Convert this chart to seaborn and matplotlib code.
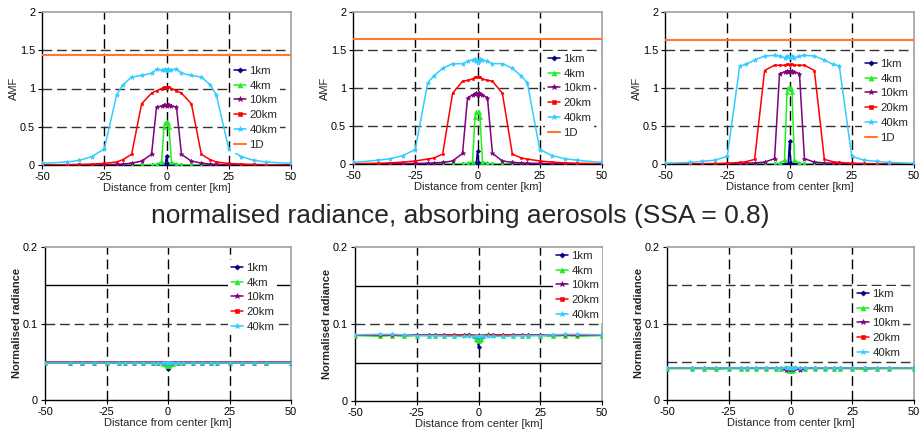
import matplotlib
matplotlib.use("Agg")
import matplotlib.pyplot as plt
from matplotlib.ticker import FuncFormatter
import seaborn as sns

sns.set_style("ticks")
plt.rcParams["font.family"] = ["Liberation Sans", "DejaVu Sans"]

# Sample positions across the plume [km]
X_KM = [-50, -40, -35, -30, -25, -20, -17.5, -14, -10, -6, -4, -2, -1, -0.5, 0,
        0.5, 1, 2, 4, 6, 10, 14, 17.5, 20, 25, 30, 35, 40, 50]

SERIES = ["1km", "4km", "10km", "20km", "40km"]
COLORS = {"1km": "#000080", "4km": "#22EE22", "10km": "#800080",
          "20km": "#FF0000", "40km": "#33CCFF"}
MARKERS = {"1km": "D", "4km": "^", "10km": "*", "20km": "s", "40km": "*"}
MSIZE = {"1km": 2.2, "4km": 3.0, "10km": 3.4, "20km": 2.0, "40km": 3.4}
ONE_D_COLOR = "#FF7733"

# ---- AMF, left panel
amf1_1km = [0, 0, 0, 0, 0, 0, 0, 0, 0, 0, 0, 0.002, 0.004, 0.01, 0.12, 0.01, 0.004, 0.002,
            0, 0, 0, 0, 0, 0, 0, 0, 0, 0, 0]
amf1_4km = [0, 0, 0, 0, 0, 0, 0, 0, 0.002, 0.005, 0.01, 0.04, 0.50, 0.55, 0.56, 0.55, 0.50,
            0.04, 0.01, 0.005, 0.002, 0, 0, 0, 0, 0, 0, 0, 0]
amf1_10km = [0, 0, 0, 0.002, 0.004, 0.008, 0.012, 0.025, 0.05, 0.14, 0.76, 0.77, 0.78, 0.78,
             0.77, 0.78, 0.78, 0.77, 0.76, 0.14, 0.05, 0.025, 0.012, 0.008, 0.004, 0.002, 0, 0, 0]
amf1_20km = [0, 0.005, 0.008, 0.012, 0.02, 0.04, 0.07, 0.14, 0.80, 0.94, 0.97, 1.00, 1.02, 1.02,
             1.01, 1.02, 1.02, 1.00, 0.97, 0.94, 0.80, 0.14, 0.07, 0.04, 0.02, 0.012, 0.008,
             0.005, 0]
amf1_40km = [0.02, 0.04, 0.06, 0.11, 0.21, 0.92, 1.05, 1.15, 1.17, 1.20, 1.25, 1.24, 1.24, 1.25,
             1.23, 1.25, 1.24, 1.24, 1.26, 1.20, 1.17, 1.15, 1.05, 0.92, 0.21, 0.11, 0.06, 0.04,
             0.02]

# ---- AMF, middle panel
amf2_1km = [0, 0, 0, 0, 0, 0, 0, 0, 0, 0, 0, 0, 0, 0.01, 0.17, 0.01, 0, 0, 0, 0, 0, 0, 0, 0,
            0, 0, 0, 0, 0]
amf2_4km = [0, 0, 0, 0, 0, 0, 0, 0, 0.002, 0.005, 0.01, 0.03, 0.62, 0.68, 0.68, 0.68, 0.62,
            0.03, 0.01, 0.005, 0.002, 0, 0, 0, 0, 0, 0, 0, 0]
amf2_10km = [0, 0.002, 0.004, 0.006, 0.008, 0.01, 0.015, 0.02, 0.04, 0.14, 0.87, 0.91, 0.92,
             0.93, 0.91, 0.93, 0.92, 0.91, 0.87, 0.14, 0.04, 0.02, 0.015, 0.01, 0.008, 0.006,
             0.004, 0.002, 0]
amf2_20km = [0.005, 0.01, 0.015, 0.025, 0.04, 0.065, 0.08, 0.13, 0.93, 1.09, 1.10, 1.12, 1.14,
             1.15, 1.14, 1.15, 1.14, 1.12, 1.10, 1.09, 0.93, 0.13, 0.08, 0.065, 0.04, 0.025,
             0.015, 0.01, 0.005]
amf2_40km = [0.02, 0.05, 0.07, 0.11, 0.19, 1.07, 1.16, 1.26, 1.32, 1.32, 1.35, 1.37, 1.38, 1.36,
             1.33, 1.36, 1.38, 1.37, 1.35, 1.32, 1.32, 1.26, 1.16, 1.07, 0.19, 0.11, 0.07, 0.05,
             0.02]

# ---- AMF, right panel
amf3_1km = [0, 0, 0, 0, 0, 0, 0, 0, 0, 0, 0, 0, 0, 0.01, 0.30, 0.01, 0, 0, 0, 0, 0, 0, 0, 0,
            0, 0, 0, 0, 0]
amf3_4km = [0, 0, 0, 0, 0, 0, 0, 0, 0, 0.003, 0.01, 0.05, 0.95, 1.00, 1.00, 1.00, 0.95, 0.05,
            0.01, 0.003, 0, 0, 0, 0, 0, 0, 0, 0, 0]
amf3_10km = [0, 0, 0.002, 0.003, 0.005, 0.007, 0.01, 0.015, 0.025, 0.07, 1.19, 1.21, 1.22, 1.21,
             1.22, 1.21, 1.22, 1.21, 1.19, 0.07, 0.025, 0.015, 0.01, 0.007, 0.005, 0.003, 0.002,
             0, 0]
amf3_20km = [0, 0.002, 0.004, 0.006, 0.01, 0.02, 0.03, 0.06, 1.23, 1.30, 1.30, 1.30, 1.31, 1.31,
             1.30, 1.31, 1.31, 1.30, 1.30, 1.30, 1.23, 0.06, 0.03, 0.02, 0.01, 0.006, 0.004,
             0.002, 0]
amf3_40km = [0.01, 0.02, 0.035, 0.05, 0.10, 1.29, 1.31, 1.37, 1.42, 1.43, 1.42, 1.40, 1.42, 1.41,
             1.40, 1.41, 1.42, 1.40, 1.42, 1.43, 1.42, 1.37, 1.31, 1.29, 0.10, 0.05, 0.035, 0.02,
             0.01]

# 1D reference AMF for each top panel
amf_1d = [1.44, 1.64, 1.63]

# ---- normalised radiance, left panel
rad1_1km = [0.049, 0.049, 0.049, 0.049, 0.049, 0.049, 0.049, 0.049, 0.049, 0.049, 0.049, 0.049,
            0.048, 0.047, 0.040, 0.047, 0.048, 0.049, 0.049, 0.049, 0.049, 0.049, 0.049, 0.049,
            0.049, 0.049, 0.049, 0.049, 0.049]
rad1_4km = [0.048, 0.048, 0.048, 0.048, 0.048, 0.048, 0.048, 0.048, 0.048, 0.048, 0.048, 0.047,
            0.046, 0.045, 0.045, 0.045, 0.046, 0.047, 0.048, 0.048, 0.048, 0.048, 0.048, 0.048,
            0.048, 0.048, 0.048, 0.048, 0.048]
rad1_10km = [0.049, 0.049, 0.049, 0.049, 0.049, 0.049, 0.049, 0.049, 0.049, 0.049, 0.049, 0.049,
             0.048, 0.048, 0.048, 0.048, 0.048, 0.049, 0.049, 0.049, 0.049, 0.049, 0.049, 0.049,
             0.049, 0.049, 0.049, 0.049, 0.049]
rad1_20km = [0.049, 0.049, 0.049, 0.049, 0.049, 0.049, 0.049, 0.049, 0.049, 0.049, 0.049, 0.049,
             0.049, 0.048, 0.048, 0.048, 0.049, 0.049, 0.049, 0.049, 0.049, 0.049, 0.049, 0.049,
             0.049, 0.049, 0.049, 0.049, 0.049]
rad1_40km = [0.049, 0.049, 0.049, 0.049, 0.049, 0.049, 0.049, 0.049, 0.049, 0.049, 0.049, 0.049,
             0.049, 0.049, 0.049, 0.049, 0.049, 0.049, 0.049, 0.049, 0.049, 0.049, 0.049, 0.049,
             0.049, 0.049, 0.049, 0.049, 0.049]

# ---- normalised radiance, middle panel
rad2_1km = [0.0855, 0.0855, 0.0855, 0.0855, 0.0855, 0.0855, 0.0855, 0.0855, 0.0855, 0.0855,
            0.0855, 0.084, 0.082, 0.080, 0.070, 0.080, 0.082, 0.084, 0.0855, 0.0855, 0.0855,
            0.0855, 0.0855, 0.0855, 0.0855, 0.0855, 0.0855, 0.0855, 0.0855]
rad2_4km = [0.085, 0.084, 0.085, 0.084, 0.085, 0.085, 0.085, 0.085, 0.085, 0.086, 0.087, 0.084,
            0.080, 0.079, 0.078, 0.079, 0.080, 0.084, 0.087, 0.086, 0.085, 0.085, 0.085, 0.085,
            0.085, 0.084, 0.085, 0.084, 0.085]
rad2_10km = [0.0855, 0.0855, 0.0855, 0.0855, 0.0855, 0.0855, 0.0855, 0.0855, 0.0855, 0.0855,
             0.0855, 0.085, 0.085, 0.084, 0.084, 0.084, 0.085, 0.085, 0.0855, 0.0855, 0.0855,
             0.0855, 0.0855, 0.0855, 0.0855, 0.0855, 0.0855, 0.0855, 0.0855]
rad2_20km = [0.0855, 0.0855, 0.0855, 0.0855, 0.0855, 0.086, 0.0855, 0.0855, 0.0855, 0.0855,
             0.0855, 0.0855, 0.0855, 0.0855, 0.0855, 0.0855, 0.0855, 0.0855, 0.0855, 0.0855,
             0.0855, 0.0855, 0.0855, 0.086, 0.0855, 0.0855, 0.0855, 0.0855, 0.0855]
rad2_40km = [0.086, 0.0865, 0.0865, 0.086, 0.085, 0.085, 0.085, 0.0845, 0.084, 0.084, 0.084,
             0.0838, 0.0838, 0.0838, 0.0835, 0.0838, 0.0838, 0.0838, 0.084, 0.084, 0.084,
             0.0845, 0.085, 0.085, 0.085, 0.086, 0.0865, 0.0865, 0.086]

# ---- normalised radiance, right panel
rad3_1km = [0.0415, 0.0415, 0.0415, 0.0415, 0.0415, 0.0415, 0.0415, 0.0415, 0.0415, 0.0415,
            0.0415, 0.0415, 0.041, 0.041, 0.040, 0.041, 0.041, 0.0415, 0.0415, 0.0415, 0.0415,
            0.0415, 0.0415, 0.0415, 0.0415, 0.0415, 0.0415, 0.0415, 0.0415]
rad3_4km = [0.041, 0.041, 0.041, 0.040, 0.041, 0.041, 0.041, 0.041, 0.041, 0.041, 0.041, 0.043,
            0.039, 0.038, 0.038, 0.038, 0.039, 0.043, 0.041, 0.041, 0.041, 0.041, 0.041, 0.041,
            0.041, 0.040, 0.041, 0.041, 0.041]
rad3_10km = [0.0415, 0.0415, 0.0415, 0.0415, 0.0415, 0.0415, 0.0415, 0.0415, 0.0415, 0.0415,
             0.0415, 0.039, 0.041, 0.041, 0.041, 0.041, 0.041, 0.0415, 0.039, 0.0415, 0.0415,
             0.0415, 0.0415, 0.0415, 0.0415, 0.0415, 0.0415, 0.0415, 0.0415]
rad3_20km = [0.0415, 0.0415, 0.0415, 0.0415, 0.0415, 0.0415, 0.0415, 0.0415, 0.0415, 0.0415,
             0.0415, 0.0415, 0.0415, 0.042, 0.042, 0.042, 0.0415, 0.0415, 0.0415, 0.0415, 0.0415,
             0.042, 0.0415, 0.0415, 0.0415, 0.0415, 0.0415, 0.0415, 0.0415]
rad3_40km = [0.0415, 0.0415, 0.0415, 0.0415, 0.0415, 0.0415, 0.0415, 0.0415, 0.0415, 0.0415,
             0.0415, 0.0415, 0.0415, 0.0415, 0.0415, 0.0415, 0.0415, 0.0415, 0.0415, 0.0415,
             0.0415, 0.0415, 0.0415, 0.0415, 0.0415, 0.0415, 0.0415, 0.0415, 0.0415]

TITLE = "normalised radiance, absorbing aerosols (SSA = 0.8)"
XLABEL = "Distance from center [km]"

amf_panels = [
    [amf1_1km, amf1_4km, amf1_10km, amf1_20km, amf1_40km],
    [amf2_1km, amf2_4km, amf2_10km, amf2_20km, amf2_40km],
    [amf3_1km, amf3_4km, amf3_10km, amf3_20km, amf3_40km],
]
rad_panels = [
    [rad1_1km, rad1_4km, rad1_10km, rad1_20km, rad1_40km],
    [rad2_1km, rad2_4km, rad2_10km, rad2_20km, rad2_40km],
    [rad3_1km, rad3_4km, rad3_10km, rad3_20km, rad3_40km],
]

W, H = 921, 433


def px_axes(fig, x0, y0, x1, y1):
    return fig.add_axes([x0 / W, 1 - y1 / H, (x1 - x0) / W, (y1 - y0) / H])


def style(ax, ymax, yticks, ylabel, bold, hgrid):
    ax.set_xlim(-50, 50)
    ax.set_ylim(0, ymax)
    ax.set_xticks([-50, -25, 0, 25, 50])
    ax.set_yticks(yticks)
    ax.yaxis.set_major_formatter(FuncFormatter(lambda v, p: f"{v:g}"))
    ax.xaxis.set_major_formatter(FuncFormatter(lambda v, p: f"{v:g}"))
    for xv in (-25, 0, 25):
        ax.axvline(xv, color="black", lw=1.0, dashes=(7, 3.5), zorder=1)
    for yv, solid in hgrid:
        if solid:
            ax.axhline(yv, color="black", lw=1.0, zorder=1)
        else:
            ax.axhline(yv, color="#333333", lw=1.0, dashes=(7, 3.5), zorder=1)
    for s in ("top", "right"):
        ax.spines[s].set_color("#A0A0A0")
        ax.spines[s].set_linewidth(1.2)
    for s in ("left", "bottom"):
        ax.spines[s].set_color("black")
        ax.spines[s].set_linewidth(1.0)
    ax.tick_params(direction="out", length=3, width=0.8, colors="black",
                   labelsize=7.8, pad=2)
    ax.set_xlabel(XLABEL, fontsize=8, labelpad=1)
    ax.set_ylabel(ylabel, fontsize=8, fontweight="bold" if bold else "normal",
                  labelpad=0.5)
    ax.set_facecolor("white")


def draw_series(ax, values):
    for name, yv in zip(SERIES, values):
        sns.lineplot(x=X_KM, y=yv, ax=ax, color=COLORS[name], lw=1.1,
                     marker=MARKERS[name], markersize=MSIZE[name],
                     markeredgecolor=COLORS[name], markeredgewidth=0.4,
                     label=name, zorder=3)


def add_legend(ax, fig, x, y):
    handles, labels = ax.get_legend_handles_labels()
    leg = ax.legend(handles, labels, loc="upper left", bbox_to_anchor=(x / W, 1 - y / H),
                    bbox_transform=fig.transFigure, fontsize=8.2, frameon=True,
                    fancybox=False, framealpha=1, facecolor="white", edgecolor="none",
                    borderpad=0.25, borderaxespad=0, handlelength=1.1,
                    handletextpad=0.25, labelspacing=0.42, markerscale=1.2)
    leg.set_zorder(6)


fig = plt.figure(figsize=(W / 100, H / 100), dpi=100)
fig.patch.set_facecolor("white")

top_boxes = [(42, 12, 291, 165), (353, 12, 602, 164), (665, 12, 914, 164)]
top_legends = [(231, 63), (545, 51), (862, 56)]
for i, box in enumerate(top_boxes):
    ax = px_axes(fig, *box)
    draw_series(ax, amf_panels[i])
    ax.axhline(amf_1d[i], color=ONE_D_COLOR, lw=1.5, label="1D", zorder=4)
    style(ax, 2, [0, 0.5, 1, 1.5, 2], "AMF", False,
          [(0.5, False), (1.0, False), (1.5, False)])
    add_legend(ax, fig, *top_legends[i])

bottom_boxes = [(45, 247, 291, 400), (355, 247, 602, 401), (667, 247, 914, 400)]
bottom_legends = [(228, 260), (553, 248), (854, 286)]
bottom_grids = [
    [(0.05, True), (0.1, False), (0.15, True)],
    [(0.05, True), (0.1, False), (0.15, True)],
    [(0.05, False), (0.1, False), (0.15, False)],
]
for i, box in enumerate(bottom_boxes):
    ax = px_axes(fig, *box)
    draw_series(ax, rad_panels[i])
    style(ax, 0.2, [0, 0.1, 0.2], "Normalised radiance", True, bottom_grids[i])
    add_legend(ax, fig, *bottom_legends[i])

fig.text(460 / W, 1 - 216 / H, TITLE, ha="center", va="center", fontsize=19)

fig.savefig("out.png", dpi=100, facecolor="white")
